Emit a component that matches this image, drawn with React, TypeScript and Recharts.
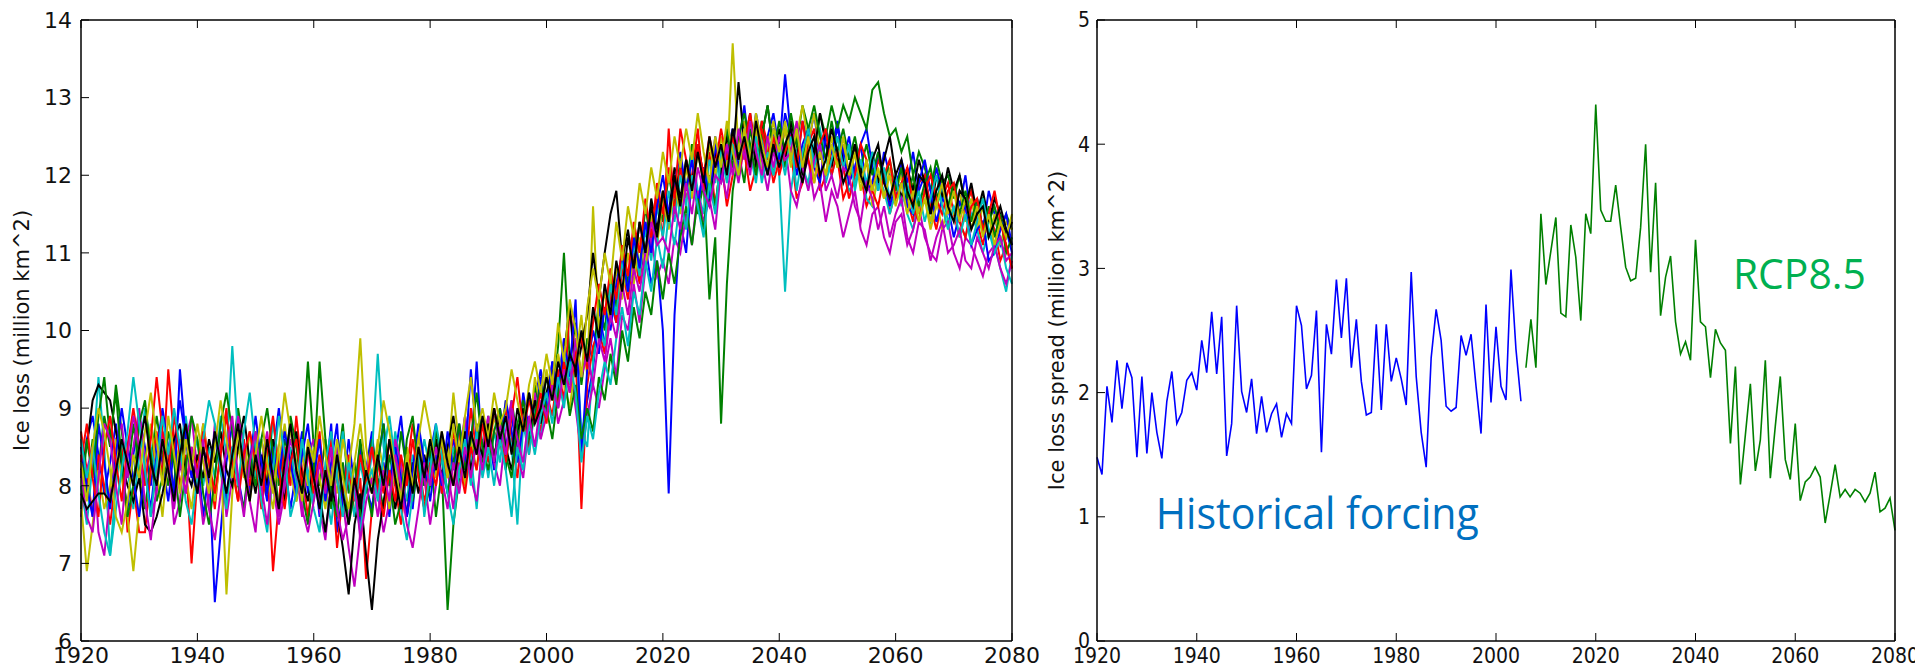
import { LineChart, Line, XAxis, YAxis, ReferenceDot } from "recharts";

// axis ticks
const YEAR_TICKS = [1920, 1940, 1960, 1980, 2000, 2020, 2040, 2060, 2080];
const LOSS_TICKS = [6, 7, 8, 9, 10, 11, 12, 13, 14];
const SPREAD_TICKS = [0, 1, 2, 3, 4, 5];
const FIRST_YEAR = 1920;

// matplotlib classic colour cycle
const B = "#0000ff";
const G = "#008000";
const R = "#ff0000";
const C = "#00bfbf";
const M = "#bf00bf";
const Y = "#bfbf00";
const K = "#000000";

// ensemble members, ice loss (million km^2), one value per year 1920..2080
const RUN_01 = [
  8.1, 8.6, 8.9, 8.4, 7.9, 8.3, 8.8, 8.2, 7.7, 8.4,
  8.9, 8.5, 8.0, 8.6, 8.3, 7.8, 8.5, 9.1, 8.6, 8.1,
  8.4, 7.6, 8.2, 6.5, 7.4, 8.3, 8.8, 8.0, 8.5, 7.9,
  8.6, 8.2, 7.8, 8.4, 9.0, 8.3, 7.7, 8.2, 8.7, 7.9,
  8.3, 7.6, 8.1, 8.8, 7.4, 7.9, 8.6, 8.0, 7.5, 8.2,
  8.7, 7.9, 8.3, 7.6, 8.4, 8.9, 8.1, 7.7, 8.5, 8.0,
  8.4, 8.8, 7.9, 8.3, 8.6, 8.1, 8.9, 8.4, 9.6, 8.3,
  8.7, 8.2, 9.0, 8.5, 8.9, 8.4, 9.2, 8.7, 9.1, 9.5,
  9.0, 9.6, 9.3, 9.9, 9.4, 9.8, 8.6, 9.1, 9.5, 10.3,
  9.8, 10.4, 10.1, 10.9, 10.5, 11.2, 10.7, 11.1, 10.6, 10.9,
  10.0, 7.9, 10.2, 11.4, 11.0, 12.0, 11.6, 12.1, 11.8, 12.5,
  12.0, 12.6, 12.1, 12.4, 12.9, 12.2, 12.6, 12.0, 12.5, 12.8,
  12.3, 13.3, 12.5, 12.1, 12.7, 12.4, 12.8, 12.2, 12.6, 12.3,
  12.7, 12.2, 12.5, 12.0, 12.4, 12.6, 12.1, 11.8, 12.3, 12.0,
  11.7, 12.2, 11.9, 12.3, 11.8, 12.0, 11.6, 12.1, 11.8, 11.5,
  11.9, 11.6, 12.0, 11.4, 11.7, 11.3, 11.8, 11.5, 11.1, 11.3,
  11.0,
];
const RUN_02 = [
  8.4, 7.9, 8.6, 8.2, 8.9, 8.5, 9.3, 8.7, 8.1, 8.8,
  8.2, 7.7, 8.3, 8.9, 8.4, 8.0, 8.6, 8.2, 8.8, 8.3,
  7.9, 8.5, 8.1, 8.7, 8.3, 7.8, 8.4, 9.0, 8.5, 8.1,
  8.7, 8.2, 7.9, 8.5, 8.0, 8.6, 8.3, 7.8, 8.4, 9.6,
  8.5, 8.0, 8.6, 7.7, 8.2, 8.8, 7.9, 8.3, 7.6, 8.1,
  8.6, 8.1, 7.7, 8.4, 8.0, 8.7, 8.2, 7.8, 8.3, 8.0,
  8.5, 7.6, 8.2, 6.4, 7.5, 8.1, 8.7, 8.2, 8.8, 8.3,
  8.9, 8.4, 8.7, 8.2, 9.1, 8.6, 8.9, 8.5, 9.3, 8.9,
  9.4, 9.1, 9.8, 11.0, 9.6, 10.1, 9.3, 9.9, 9.6, 10.4,
  10.0, 10.7, 10.3, 11.0, 10.6, 11.3, 10.8, 11.6, 11.1, 11.8,
  11.4, 12.0, 11.6, 12.2, 11.8, 12.4, 11.5, 11.9, 10.4, 11.2,
  8.8, 10.6, 11.8, 12.3, 11.9, 12.6, 12.2, 12.7, 12.3, 12.0,
  12.5, 12.1, 12.7, 12.4, 12.9, 12.6, 12.2, 12.8, 12.5, 12.9,
  12.6, 12.9, 12.7, 13.0, 12.8, 12.6, 13.1, 13.2, 12.8, 12.5,
  12.6, 12.3, 12.5, 12.0, 12.3, 12.1, 11.8, 12.2, 11.9, 12.0,
  11.7, 12.0, 11.6, 11.8, 11.5, 11.7, 11.4, 11.6, 11.3, 11.5,
  11.3,
];
const RUN_03 = [
  8.7, 8.2, 7.6, 8.4, 8.0, 7.5, 8.1, 8.6, 7.4, 8.0,
  7.4, 7.4, 8.2, 8.7, 8.1, 9.5, 8.6, 8.0, 8.4, 7.0,
  8.1, 8.8, 8.3, 7.7, 8.5, 9.0, 8.2, 7.8, 8.6, 8.0,
  8.4, 7.7, 8.3, 6.9, 7.8, 8.5, 8.0, 8.9, 8.2, 7.6,
  8.2, 8.7, 7.8, 8.3, 7.2, 7.9, 8.4, 7.6, 8.1, 6.8,
  7.7, 8.3, 7.9, 8.6, 8.0, 7.5, 8.2, 8.8, 8.3, 7.8,
  8.1, 8.6, 7.9, 8.4, 8.0, 8.7, 8.2, 9.0, 8.4, 8.8,
  8.3, 8.7, 8.5, 9.0, 8.6, 8.1, 8.9, 8.4, 9.1, 8.7,
  9.2, 8.9, 9.5, 9.1, 10.3, 9.7, 7.7, 9.3, 9.8, 10.0,
  9.7, 10.5, 10.1, 10.8, 10.4, 11.0, 10.6, 11.4, 11.0, 11.7,
  11.2, 12.6, 11.5, 12.1, 11.7, 12.0, 12.6, 11.8, 12.3, 11.6,
  12.2, 11.6, 12.0, 12.5, 12.3, 11.8, 12.1, 12.7, 12.4, 11.9,
  12.2, 12.6, 12.3, 11.7, 11.9, 12.4, 12.6, 11.8, 12.0, 12.3,
  12.2, 11.7, 11.9, 12.4, 12.0, 11.6, 11.8, 12.2, 12.0, 11.5,
  11.8, 12.1, 11.7, 11.4, 11.9, 12.0, 11.6, 11.3, 11.7, 11.9,
  11.5, 11.2, 11.6, 11.8, 11.4, 11.1, 11.5, 11.3, 10.9, 11.1,
  10.8,
];
const RUN_04 = [
  8.0, 7.5, 8.3, 9.4, 8.5, 7.1, 8.0, 8.6, 8.2, 7.7,
  8.4, 9.0, 8.5, 8.1, 8.7, 8.3, 7.8, 8.5, 8.9, 8.3,
  8.6, 8.0, 8.5, 8.1, 8.9, 8.4, 9.8, 8.6, 8.2, 8.7,
  8.1, 8.6, 8.2, 8.8, 8.3, 7.9, 8.5, 8.0, 8.6, 8.2,
  7.8, 8.4, 8.0, 7.5, 8.2, 8.7, 8.1, 7.6, 8.3, 7.9,
  8.4, 9.7, 8.5, 8.0, 8.7, 8.2, 7.8, 8.4, 8.1, 8.6,
  8.2, 8.7, 8.3, 7.9, 8.5, 8.1, 8.8, 8.4, 7.7, 8.6,
  8.1, 8.7, 8.3, 8.9, 8.5, 7.5, 8.8, 8.4, 9.0, 8.6,
  9.1, 9.4, 9.0, 9.7, 9.3, 9.9, 8.7, 8.5, 9.6, 10.1,
  9.8, 10.6, 10.2, 10.9, 10.5, 11.1, 10.7, 11.3, 10.9, 11.6,
  11.2, 11.8, 11.4, 12.0, 11.6, 12.3, 11.8, 11.5, 12.2, 11.9,
  12.4, 12.0, 12.5, 12.1, 12.7, 12.3, 11.9, 12.5, 12.1, 12.6,
  12.0, 10.5, 11.8, 12.3, 12.1, 11.9, 12.4, 12.6, 12.2, 12.0,
  12.3, 12.1, 11.8, 11.9, 12.2, 11.7, 11.6, 12.0, 11.8, 11.5,
  11.8, 11.9, 11.5, 11.3, 11.7, 11.8, 11.4, 11.6, 11.8, 11.4,
  11.6, 11.4, 11.2, 11.5, 11.3, 11.0, 11.3, 11.1, 10.8, 10.5,
  11.0,
];
const RUN_05 = [
  7.6, 8.2, 8.5, 7.4, 7.1, 7.9, 8.6, 8.8, 8.1, 8.5,
  9.0, 8.3, 7.6, 7.9, 8.7, 8.4, 7.5, 7.8, 8.6, 8.9,
  8.2, 7.5, 7.9, 8.8, 8.4, 7.6, 8.1, 8.9, 8.5, 7.8,
  7.4, 8.3, 8.7, 8.0, 7.5, 7.9, 8.8, 8.2, 7.6, 8.4,
  8.6, 7.7, 7.3, 8.1, 8.5, 7.8, 7.2, 6.7, 7.4, 8.2,
  8.5, 7.9, 7.4, 7.8, 8.6, 8.3, 7.6, 8.0, 8.7, 8.1,
  7.5, 8.0, 8.6, 8.2, 7.7, 8.4, 8.9, 8.1, 7.8, 8.5,
  8.9, 8.3, 8.0, 8.7, 9.1, 8.4, 8.1, 8.8, 9.2, 8.6,
  8.9, 9.4, 8.8, 9.1, 9.6, 9.0, 8.4, 8.9, 9.3, 9.0,
  9.5, 9.9, 9.4, 10.2, 10.0, 10.6, 10.1, 10.8, 11.2, 10.7,
  10.9, 10.6, 11.2, 11.0, 11.5, 11.1, 11.8, 11.4, 11.7, 11.3,
  12.1, 11.7, 12.3, 11.9, 12.4, 12.0, 12.6, 12.2, 11.8, 12.3,
  12.1, 12.4, 11.8, 11.6, 12.0, 12.2, 11.7, 11.9, 11.4, 11.8,
  11.6, 11.2, 11.5, 11.8, 11.3, 11.1, 11.5, 11.6, 11.2, 11.0,
  11.4, 11.5, 11.1, 11.3, 11.6, 11.2, 11.0, 10.9, 11.3, 11.4,
  11.0, 10.8, 11.2, 11.1, 10.9, 10.7, 11.0, 11.1, 10.8, 10.6,
  10.9,
];
const RUN_06 = [
  7.8, 6.9, 7.5, 8.2, 7.7, 8.0, 8.6, 8.1, 7.6, 6.9,
  7.7, 8.3, 8.8, 8.2, 7.6, 8.4, 8.0, 8.6, 8.1, 7.7,
  8.3, 8.8, 8.2, 7.8, 8.4, 6.6, 7.9, 8.5, 8.1, 8.7,
  8.2, 8.6, 8.1, 7.7, 8.3, 8.8, 8.2, 7.8, 8.4, 8.0,
  8.5, 8.1, 7.7, 8.3, 7.9, 8.6, 8.2, 8.8, 9.9, 8.5,
  8.0, 8.6, 8.2, 7.7, 8.3, 7.9, 8.5, 8.1, 8.7, 8.2,
  8.6, 8.1, 8.7, 8.3, 9.2, 8.5, 8.0, 8.6, 8.2, 8.9,
  8.4, 8.9, 8.5, 9.1, 8.7, 8.3, 9.0, 8.6, 9.4, 9.0,
  9.5, 9.1, 9.7, 9.3, 9.0, 9.6, 10.2, 9.4, 11.6, 10.0,
  10.5, 10.1, 10.8, 10.4, 11.0, 10.6, 11.2, 10.8, 11.5, 11.1,
  11.7, 11.3, 11.9, 11.5, 12.1, 11.7, 12.3, 11.9, 12.4, 12.0,
  12.5, 12.1, 13.7, 12.3, 12.7, 12.2, 12.6, 12.0, 12.4, 12.7,
  12.2, 12.6, 12.1, 12.5, 12.9, 12.4, 12.8, 12.3, 12.0, 12.5,
  12.1, 12.4, 11.9, 12.3, 11.8, 12.2, 11.6, 12.0, 11.7, 12.1,
  11.8, 12.0, 11.6, 11.9, 11.5, 11.8, 11.4, 11.7, 11.3, 11.6,
  11.5, 11.8, 11.4, 11.7, 11.3, 11.6, 11.2, 11.5, 11.1, 11.4,
  11.3,
];
const RUN_07 = [
  8.2, 8.5, 9.1, 9.3, 9.2, 9.1, 8.7, 8.3, 8.0, 7.8,
  8.1, 7.5, 7.4, 7.6, 7.9, 8.3, 8.6, 8.8, 8.2, 8.0,
  8.4, 8.1, 8.6, 8.3, 8.7, 8.2, 8.0, 8.5, 8.9, 8.3,
  7.9, 8.4, 8.0, 8.6, 8.2, 7.8, 8.3, 8.7, 8.1, 7.8,
  8.3, 7.9, 7.4, 8.0, 7.7, 7.2, 6.6, 7.5, 7.9, 7.1,
  6.4, 7.3, 7.8, 8.2, 7.7, 8.1, 7.6, 8.3, 7.9, 8.4,
  8.0, 8.6, 8.1, 8.5, 8.9, 8.3, 8.7, 8.2, 8.6, 8.4,
  8.8, 8.3, 8.9, 8.5, 8.2, 8.7, 9.0, 8.6, 9.1, 8.8,
  9.2, 9.5, 9.1, 9.7, 10.3, 9.4, 9.8, 10.2, 11.0, 10.4,
  11.0, 11.5, 11.8, 10.9, 11.3, 10.8, 11.4, 11.0, 11.7, 11.3,
  11.8, 11.5, 12.1, 11.7, 12.2, 11.9, 12.4, 12.0, 11.6, 12.3,
  12.0, 12.5, 12.2, 13.2, 12.4, 12.8, 12.1, 12.5, 12.9, 12.3,
  12.6, 12.2, 12.7, 12.4, 12.0, 12.5, 12.3, 12.8, 12.4, 12.1,
  12.5, 12.2, 12.0, 12.4, 12.1, 11.8, 12.3, 11.9, 12.2, 12.5,
  12.0, 11.7, 12.1, 11.8, 12.2, 11.9, 11.5, 12.0, 11.7, 12.1,
  11.8, 12.0, 11.6, 11.9, 11.5, 11.8, 11.4, 11.7, 11.5, 11.2,
  11.4,
];
const RUN_08 = [
  8.5, 8.0, 7.6, 8.8, 8.3, 7.7, 8.4, 9.0, 8.5, 8.1,
  7.6, 8.2, 7.7, 8.4, 9.0, 8.5, 7.9, 9.5, 8.6, 8.2,
  7.9, 8.5, 8.1, 8.7, 8.2, 7.8, 8.5, 8.1, 7.7, 8.3,
  8.9, 8.3, 7.9, 8.5, 8.1, 8.7, 8.3, 7.9, 8.4, 8.8,
  8.1, 8.6, 7.8, 8.3, 8.8, 7.6, 8.2, 7.9, 8.5, 8.0,
  7.7, 8.3, 8.8, 8.0, 8.5, 8.1, 7.6, 8.2, 8.8, 8.3,
  7.8, 8.4, 8.0, 8.7, 8.2, 8.8, 8.3, 9.5, 8.6, 8.2,
  8.6, 9.0, 8.5, 9.1, 8.7, 8.3, 8.8, 9.2, 8.8, 9.4,
  9.0, 9.6, 9.2, 9.8, 9.5, 10.4, 8.4, 9.5, 10.0, 9.7,
  10.3, 10.0, 10.6, 11.0, 10.5, 11.2, 10.8, 11.4, 11.0, 11.6,
  12.0, 11.5, 11.9, 12.3, 11.8, 12.2, 11.6, 12.1, 11.7, 12.4,
  11.9, 12.3, 12.6, 12.1, 12.5, 12.2, 12.8, 12.4, 12.0, 12.6,
  12.2, 12.8, 12.5, 12.0, 12.4, 12.6, 12.1, 11.9, 12.5, 12.3,
  12.6, 12.3, 11.9, 12.1, 12.4, 11.8, 11.9, 12.3, 12.0, 11.6,
  11.9, 12.1, 11.6, 11.5, 11.9, 12.2, 11.8, 11.4, 11.7, 11.6,
  11.2, 11.5, 11.6, 11.1, 11.3, 11.4, 10.9, 11.0, 11.3, 11.5,
  11.1,
];
const RUN_09 = [
  7.7, 8.6, 8.1, 8.9, 9.4, 8.6, 9.2, 8.3, 7.6, 8.0,
  8.8, 9.1, 8.4, 7.8, 8.1, 8.7, 8.3, 7.6, 8.2, 8.9,
  8.6, 7.9, 7.5, 8.1, 8.8, 9.2, 8.7, 8.0, 7.7, 8.4,
  8.0, 8.6, 9.0, 8.4, 7.7, 8.1, 8.9, 8.5, 7.9, 7.5,
  8.2, 9.6, 8.6, 7.9, 7.6, 8.3, 7.5, 7.9, 8.6, 8.0,
  7.6, 8.3, 8.8, 8.1, 7.5, 7.8, 8.6, 8.9, 8.2, 7.7,
  8.0, 8.7, 8.4, 7.9, 8.3, 8.8, 8.2, 8.6, 9.2, 8.5,
  8.2, 8.7, 9.0, 8.4, 8.1, 8.8, 9.1, 8.6, 8.9, 9.3,
  9.0, 8.6, 9.2, 9.5, 8.9, 9.3, 8.6, 9.0, 8.7, 9.4,
  9.1, 9.7, 9.3, 10.0, 9.6, 10.3, 9.9, 10.5, 10.2, 10.9,
  10.4, 11.0, 10.6, 11.2, 11.6, 11.1, 11.7, 11.3, 12.0, 11.6,
  12.2, 12.6, 12.1, 12.5, 12.8, 12.4, 12.0, 12.5, 12.9, 12.3,
  12.7, 12.3, 12.8, 12.4, 12.2, 12.6, 12.9, 12.5, 12.2, 12.7,
  12.3, 12.6, 12.2, 12.5, 12.1, 12.4, 12.0, 12.3, 11.9, 12.2,
  11.8, 12.1, 11.7, 12.0, 11.6, 11.9, 12.1, 11.7, 11.9, 11.6,
  11.9, 11.5, 11.8, 11.4, 11.7, 11.3, 11.6, 11.2, 11.5, 11.0,
  11.2,
];
const RUN_10 = [
  8.3, 8.8, 8.1, 7.6, 8.5, 8.9, 8.3, 7.8, 8.5, 9.0,
  8.5, 8.0, 8.6, 9.4, 8.7, 8.2, 8.9, 8.4, 7.9, 8.5,
  8.2, 8.7, 8.3, 7.9, 8.4, 8.9, 8.3, 7.8, 8.4, 8.7,
  8.3, 7.8, 8.4, 8.9, 8.2, 7.7, 8.3, 8.6, 8.0, 8.5,
  7.9, 8.4, 8.0, 8.6, 8.1, 7.6, 8.2, 7.8, 8.4, 8.0,
  8.5, 8.0, 7.6, 8.2, 7.8, 8.4, 8.0, 8.6, 8.1, 7.7,
  8.3, 8.0, 8.5, 8.1, 8.7, 8.3, 7.9, 8.5, 8.2, 8.8,
  8.4, 9.0, 8.6, 8.3, 8.9, 9.4, 8.7, 9.1, 8.8, 9.2,
  8.8, 9.4, 9.0, 9.6, 9.2, 9.7, 9.9, 9.5, 10.1, 10.6,
  10.2, 10.8, 10.4, 11.1, 10.7, 11.4, 11.0, 11.7, 11.2, 11.9,
  11.5, 12.1, 11.7, 12.6, 12.2, 11.8, 12.4, 12.0, 12.5, 12.1,
  12.6, 12.2, 12.5, 12.0, 12.4, 12.8, 12.3, 12.6, 12.2, 12.5,
  12.0, 12.3, 12.5, 12.1, 12.7, 12.2, 11.9, 12.4, 12.6, 12.0,
  12.3, 12.1, 11.7, 12.0, 12.4, 12.2, 11.8, 11.6, 12.0, 12.2,
  11.7, 11.9, 12.1, 11.6, 11.4, 11.8, 12.0, 11.7, 11.5, 11.8,
  11.9, 11.4, 11.2, 11.6, 11.7, 11.3, 11.5, 11.8, 11.4, 11.1,
  10.8,
];
const RUN_11 = [
  8.6, 8.1, 8.5, 7.9, 7.4, 7.1, 7.7, 8.2, 8.7, 9.4,
  8.8, 8.2, 7.6, 8.3, 8.9, 8.4, 9.0, 8.5, 7.8, 7.5,
  8.1, 8.6, 9.1, 8.8, 8.2, 7.7, 8.5, 8.0, 8.7, 9.2,
  8.5, 7.8, 7.4, 8.2, 8.9, 8.4, 7.6, 7.9, 8.6, 8.1,
  7.7, 7.4, 8.3, 8.7, 8.1, 7.6, 8.3, 7.9, 7.4, 8.0,
  8.2, 7.8, 8.4, 8.9, 8.3, 7.7, 7.3, 7.9, 8.5, 7.6,
  8.2, 8.8, 8.4, 7.9, 7.5, 8.2, 8.6, 8.0, 8.7, 8.1,
  8.5, 8.0, 8.6, 8.2, 7.6, 8.5, 8.2, 8.8, 8.4, 8.9,
  9.2, 8.8, 9.4, 9.0, 9.6, 9.2, 8.3, 8.9, 8.6, 9.2,
  9.6, 9.3, 9.9, 10.3, 9.8, 10.5, 10.2, 10.9, 10.5, 11.2,
  10.8, 11.5, 11.1, 11.7, 11.3, 12.0, 11.6, 11.2, 11.9, 11.5,
  12.3, 11.9, 12.4, 12.0, 12.6, 12.2, 12.5, 11.9, 12.3, 12.0,
  12.4, 12.0, 12.5, 11.8, 12.3, 12.6, 12.1, 12.4, 11.9, 12.2,
  12.5, 12.1, 12.4, 11.8, 12.2, 11.9, 12.3, 11.8, 12.1, 11.7,
  12.0, 11.6, 11.9, 11.5, 11.8, 11.4, 11.7, 12.0, 11.6, 11.3,
  11.6, 11.2, 11.5, 11.1, 11.4, 11.7, 11.3, 11.0, 11.2, 10.8,
  10.6,
];
const RUN_12 = [
  8.2, 7.6, 7.4, 8.1, 8.8, 8.6, 8.0, 7.5, 8.4, 8.9,
  8.5, 7.8, 7.3, 8.0, 8.6, 8.2, 7.7, 8.3, 7.9, 8.5,
  8.1, 8.6, 7.7, 7.3, 7.9, 8.5, 8.9, 8.1, 7.6, 8.3,
  8.7, 8.0, 7.5, 8.2, 7.6, 8.1, 8.6, 8.3, 7.7, 7.4,
  7.8, 8.3, 7.9, 8.5, 7.7, 7.3, 7.6, 8.1, 7.3, 7.8,
  8.1, 7.6, 8.2, 7.8, 8.4, 8.0, 7.5, 7.2, 7.7, 8.3,
  8.0, 8.5, 8.1, 7.7, 8.3, 7.9, 8.5, 8.1, 8.6, 8.2,
  8.7, 8.3, 8.8, 8.4, 9.0, 8.6, 8.3, 8.9, 8.5, 9.1,
  8.9, 9.3, 9.0, 9.5, 9.2, 9.9, 9.4, 9.7, 9.3, 9.9,
  9.6, 10.2, 9.9, 10.6, 10.2, 10.8, 10.5, 11.0, 11.4, 11.1,
  11.2, 11.0, 11.6, 11.3, 11.9, 11.5, 12.1, 11.8, 11.6, 12.0,
  11.9, 12.4, 12.0, 12.6, 12.2, 12.7, 12.3, 12.0, 12.5, 12.1,
  12.5, 12.2, 12.3, 12.7, 12.1, 11.8, 12.2, 12.4, 11.8, 12.0,
  11.7, 12.1, 12.0, 11.6, 11.4, 11.9, 11.7, 11.3, 11.6, 11.2,
  11.5, 11.7, 11.2, 11.0, 11.4, 11.3, 10.9, 11.2, 11.4, 11.0,
  11.1, 11.3, 10.9, 10.8, 11.2, 11.0, 10.8, 11.1, 11.2, 10.9,
  11.0,
];
const RUN_13 = [
  8.3, 7.8, 8.5, 9.0, 8.7, 8.2, 7.6, 7.4, 7.8, 8.4,
  8.1, 8.7, 9.2, 8.6, 8.0, 8.9, 8.4, 7.9, 8.6, 8.2,
  8.8, 8.3, 7.9, 8.5, 9.1, 8.6, 8.1, 8.7, 8.2, 7.8,
  8.4, 8.9, 8.3, 7.9, 8.5, 9.2, 8.7, 8.3, 7.8, 8.6,
  8.3, 8.9, 8.4, 8.0, 8.6, 8.1, 7.7, 8.3, 8.8, 8.2,
  7.9, 8.5, 9.1, 8.7, 8.2, 7.8, 8.4, 8.0, 8.6, 9.1,
  8.7, 8.2, 8.6, 8.1, 8.8, 8.3, 8.9, 9.4, 8.7, 9.0,
  8.6, 9.2, 8.8, 9.0, 9.5, 9.1, 8.7, 9.3, 9.6, 9.2,
  9.7, 9.3, 10.1, 9.6, 10.4, 10.0, 9.4, 10.3, 10.8, 10.4,
  11.0, 10.6, 11.4, 10.9, 11.6, 11.2, 11.9, 11.5, 12.1, 11.7,
  12.3, 11.9, 12.5, 12.1, 12.6, 12.2, 12.8, 12.3, 11.9, 12.5,
  12.1, 12.7, 12.3, 12.0, 12.6, 12.2, 12.8, 12.4, 12.1, 12.6,
  12.3, 12.7, 12.2, 12.6, 12.1, 12.5, 11.9, 12.3, 12.0, 12.4,
  12.1, 12.5, 12.0, 12.3, 11.9, 12.2, 11.8, 12.1, 11.7, 12.0,
  11.6, 11.9, 11.5, 11.8, 11.4, 11.7, 11.3, 11.6, 11.9, 11.5,
  11.8, 11.4, 11.7, 11.3, 11.6, 11.2, 11.5, 11.1, 11.4, 11.2,
  11.5,
];
const RUN_14 = [
  7.9, 7.7, 7.8, 7.9, 7.9, 7.8, 8.2, 8.6, 8.3, 8.0,
  8.5, 8.9, 8.3, 8.0, 8.6, 8.2, 7.8, 8.4, 8.8, 8.3,
  7.9, 8.5, 8.1, 8.7, 8.3, 7.9, 8.4, 8.8, 8.2, 7.8,
  8.4, 8.0, 8.6, 8.1, 7.7, 8.3, 8.8, 8.2, 7.9, 8.5,
  8.1, 7.7, 8.2, 7.8, 8.4, 7.9, 7.5, 8.1, 7.7, 8.2,
  7.9, 8.4, 8.0, 8.6, 8.1, 7.7, 8.3, 7.9, 8.5, 8.1,
  8.6, 8.2, 8.7, 8.3, 8.0, 8.5, 8.1, 8.7, 8.4, 8.9,
  8.5, 9.0, 8.6, 8.9, 8.4, 9.0, 8.7, 9.2, 8.8, 9.0,
  9.4, 9.1, 9.6, 9.3, 9.7, 9.5, 10.0, 9.6, 10.3, 9.9,
  10.6, 10.2, 10.9, 10.5, 11.2, 10.8, 11.4, 11.0, 11.6, 11.2,
  11.8, 11.4, 12.0, 11.6, 12.2, 11.8, 12.3, 11.9, 12.5, 12.1,
  12.4, 12.0, 12.6, 12.2, 12.5, 12.1, 12.7, 12.3, 12.0, 12.4,
  12.1, 12.4, 12.6, 12.2, 11.9, 12.3, 12.5, 12.0, 12.2, 12.6,
  12.3, 11.9, 12.1, 12.4, 12.0, 11.8, 12.2, 12.4, 11.9, 11.7,
  12.0, 12.2, 11.8, 11.6, 12.0, 11.9, 11.5, 11.8, 12.0, 11.6,
  11.4, 11.8, 11.7, 11.3, 11.5, 11.6, 11.2, 11.4, 11.6, 11.3,
  11.1,
];

// spread across the ensemble (million km^2)
const SPREAD_HIST = [
  1.48, 1.34, 2.05, 1.76, 2.26, 1.87, 2.24, 2.12, 1.48, 2.13,
  1.51, 2.0, 1.68, 1.47, 1.93, 2.17, 1.75, 1.84, 2.1, 2.16,
  2.02, 2.42, 2.16, 2.65, 2.15, 2.61, 1.49, 1.75, 2.7, 2.01,
  1.84, 2.11, 1.67, 1.97, 1.68, 1.83, 1.91, 1.64, 1.83, 1.75,
  2.7, 2.54, 2.03, 2.14, 2.66, 1.52, 2.55, 2.31, 2.91, 2.44,
  2.92, 2.2, 2.59, 2.09, 1.82, 1.84, 2.55, 1.86, 2.55, 2.09,
  2.28, 2.11, 1.9, 2.97, 2.13, 1.68, 1.4, 2.28, 2.67, 2.42,
  1.89, 1.85, 1.88, 2.46, 2.3, 2.47, 2.05, 1.67, 2.71, 1.92,
  2.53, 2.05, 1.94, 2.99, 2.35, 1.93,
];
const SPREAD_RCP = [
  2.2, 2.59, 2.2, 3.44,
  2.87, 3.14, 3.41, 2.64, 2.61, 3.35, 3.09, 2.58, 3.44, 3.28,
  4.32, 3.47, 3.38, 3.38, 3.67, 3.33, 3.01, 2.9, 2.92, 3.33,
  4.0, 2.97, 3.69, 2.62, 2.93, 3.1, 2.57, 2.31, 2.41, 2.26,
  3.23, 2.57, 2.53, 2.12, 2.51, 2.4, 2.34, 1.59, 2.21, 1.26,
  1.66, 2.07, 1.37, 1.62, 2.26, 1.31, 1.73, 2.13, 1.46, 1.3,
  1.75, 1.13, 1.28, 1.32, 1.4, 1.32, 0.95, 1.18, 1.42, 1.16,
  1.22, 1.16, 1.22, 1.19, 1.12, 1.19, 1.36, 1.04, 1.07, 1.15,
  0.89,
];

const RUNS = [
  { key: "r01", color: B, values: RUN_01 },
  { key: "r02", color: G, values: RUN_02 },
  { key: "r03", color: R, values: RUN_03 },
  { key: "r04", color: C, values: RUN_04 },
  { key: "r05", color: M, values: RUN_05 },
  { key: "r06", color: Y, values: RUN_06 },
  { key: "r07", color: K, values: RUN_07 },
  { key: "r08", color: B, values: RUN_08 },
  { key: "r09", color: G, values: RUN_09 },
  { key: "r10", color: R, values: RUN_10 },
  { key: "r11", color: C, values: RUN_11 },
  { key: "r12", color: M, values: RUN_12 },
  { key: "r13", color: Y, values: RUN_13 },
  { key: "r14", color: K, values: RUN_14 },
];

const lossData = RUN_01.map((_, i) => {
  const row: Record<string, number> = { year: FIRST_YEAR + i };
  RUNS.forEach((r) => { row[r.key] = r.values[i]; });
  return row;
});

const spreadData = [...SPREAD_HIST, ...SPREAD_RCP].map((v, i) => ({
  year: FIRST_YEAR + i,
  hist: i < SPREAD_HIST.length ? v : null,
  rcp: i >= SPREAD_HIST.length ? v : null,
}));

const FRAME = { stroke: "#000", strokeWidth: 1.5 };
const TICK_LINE = { stroke: "#000", strokeWidth: 1 };
const TITLE_STYLE = { fontFamily: "'DejaVu Sans', sans-serif", fontSize: 21, fill: "#111", textAnchor: "middle" as const };
const wideTick = { fontFamily: "'DejaVu Sans', sans-serif", fontSize: 22, fill: "#111" };
const narrowTick = { fontFamily: "'DejaVu Sans Condensed', 'Liberation Sans Narrow', 'DejaVu Sans', sans-serif", fontSize: 21, fill: "#111", fontStretch: "condensed" };

// big coloured annotation, placed at a data point by ReferenceDot
function Note(props: any) {
  const { viewBox, text, color, size, span } = props;
  if (!viewBox) return null;
  return (
    <text x={viewBox.x} y={viewBox.y} fill={color} fontSize={size}
      fontFamily="'Open Sans', sans-serif" textLength={span} lengthAdjust="spacingAndGlyphs">
      {text}
    </text>
  );
}

function frameAxes(yDomain: number[], yTicks: number[]) {
  // top and right axes only carry the inward ticks of the box
  return [
    <XAxis key="top" xAxisId="top" orientation="top" dataKey="year" type="number" domain={[1920, 2080]}
      ticks={YEAR_TICKS} height={1} tickSize={-8} tickFormatter={() => ""} axisLine={FRAME} tickLine={TICK_LINE} interval={0} />,
    <YAxis key="right" yAxisId="right" orientation="right" type="number" domain={yDomain}
      ticks={yTicks} width={1} tickSize={-8} tickFormatter={() => ""} axisLine={FRAME} tickLine={TICK_LINE} interval={0} />,
  ];
}

export default function App() {
  return (
    <div style={{ position: "absolute", left: 0, top: 0, width: 1915, height: 667, background: "#fff" }}>
      <div style={{ position: "absolute", left: 0, top: 0 }}>
        <LineChart width={1040} height={667} data={lossData} margin={{ top: 19, right: 27, bottom: 0, left: 0 }}>
          <XAxis dataKey="year" type="number" domain={[1920, 2080]} ticks={YEAR_TICKS} interval={0}
            height={26} tickSize={-8} tickMargin={14} tick={wideTick} axisLine={FRAME} tickLine={TICK_LINE} />
          <YAxis type="number" domain={[6, 14]} ticks={LOSS_TICKS} interval={0} width={81}
            tickSize={-8} tickMargin={17} tick={wideTick} axisLine={FRAME} tickLine={TICK_LINE}
            label={{ value: "Ice loss (million km^2)", angle: -90, position: "insideLeft", offset: 22, style: TITLE_STYLE }} />
          {frameAxes([6, 14], LOSS_TICKS)}
          {RUNS.map((r) => (
            <Line key={r.key} dataKey={r.key} stroke={r.color} strokeWidth={2} dot={false}
              activeDot={false} isAnimationActive={false} />
          ))}
        </LineChart>
      </div>
      <div style={{ position: "absolute", left: 1030, top: 0 }}>
        <LineChart width={885} height={667} data={spreadData} margin={{ top: 19, right: 19, bottom: 0, left: 0 }}>
          <XAxis dataKey="year" type="number" domain={[1920, 2080]} ticks={YEAR_TICKS} interval={0}
            height={26} tickSize={-8} tickMargin={15} tick={narrowTick} axisLine={FRAME} tickLine={TICK_LINE} />
          <YAxis type="number" domain={[0, 5]} ticks={SPREAD_TICKS} interval={0} width={67}
            tickSize={-8} tickMargin={15} tick={narrowTick} axisLine={FRAME} tickLine={TICK_LINE}
            label={{ value: "Ice loss spread (million km^2)", angle: -90, position: "insideLeft", offset: 27, style: TITLE_STYLE }} />
          {frameAxes([0, 5], SPREAD_TICKS)}
          <Line dataKey="hist" stroke={B} strokeWidth={1.6} dot={false} activeDot={false} isAnimationActive={false} />
          <Line dataKey="rcp" stroke={G} strokeWidth={1.6} dot={false} activeDot={false} isAnimationActive={false} />
          <ReferenceDot x={1931.8} y={0.9} r={0} fill="none" stroke="none"
            label={<Note text="Historical forcing" color="#0070c0" size={43} span={323} />} />
          <ReferenceDot x={2047.5} y={2.834} r={0} fill="none" stroke="none"
            label={<Note text="RCP8.5" color="#00b050" size={42} span={133} />} />
        </LineChart>
      </div>
    </div>
  );
}
